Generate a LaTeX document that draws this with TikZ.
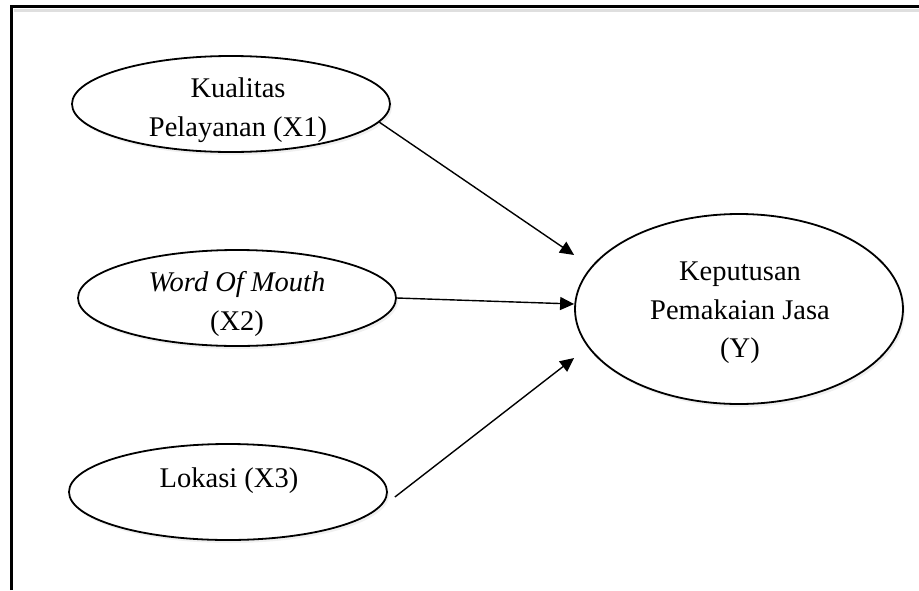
\documentclass[tikz,border=0pt]{standalone}
\usepackage{fontspec}
\setmainfont{Liberation Serif}
\usetikzlibrary{arrows.meta,shapes.geometric,shadows}

\begin{document}
\begin{tikzpicture}[x=1pt, y=-1pt,
  var/.style={ellipse, draw, line width=1.8pt, fill=white, inner sep=0pt,
    minimum width=318pt, minimum height=96pt,
    drop shadow={opacity=0.12, shadow xshift=2pt, shadow yshift=-3pt}},
  lbl/.style={align=center, inner sep=0pt, font=\fontsize{28.5}{38.5}\selectfont},
  link/.style={line width=1.4pt, -{Triangle[length=14pt,width=13pt]}}]
\useasboundingbox (0,0) rectangle (919,590);

% frame
\draw [gray!25, line width=3pt] (14,10) -- (919,10);
\draw [line width=3pt] (11,590) -- (11,6) -- (919,6);

% variables
\node [var] (x1) at (231,104) {};
\node [var] (x2) at (237,298) {};
\node [var] (x3) at (228,492) {};
\node [var, minimum width=328pt, minimum height=190pt] (y) at (739,309) {};

% labels
\node [lbl] (kua) at (238,110) {Kualitas\\Pelayanan (X1)};
\node [lbl] (wom) at (237,304) {\textit{Word Of Mouth}\\(X2)};
\node [lbl] (lok) at (229,481) {Lokasi (X3)};
\node [lbl] (kep) at (740,313) {Keputusan\\Pemakaian Jasa\\(Y)};

% tips
\coordinate (t1) at ([yshift=54pt]y.west);
\coordinate (t2) at ([yshift=5pt]y.west);
\coordinate (t3) at ([yshift=-49pt]y.west);

% paths
\draw [link] (x1.-7) -- (t1);
\draw [link] (x2.east) -- (t2);
\draw [link] ([xshift=7pt,yshift=-5pt]x3.east) -- (t3);
\end{tikzpicture}
\end{document}
